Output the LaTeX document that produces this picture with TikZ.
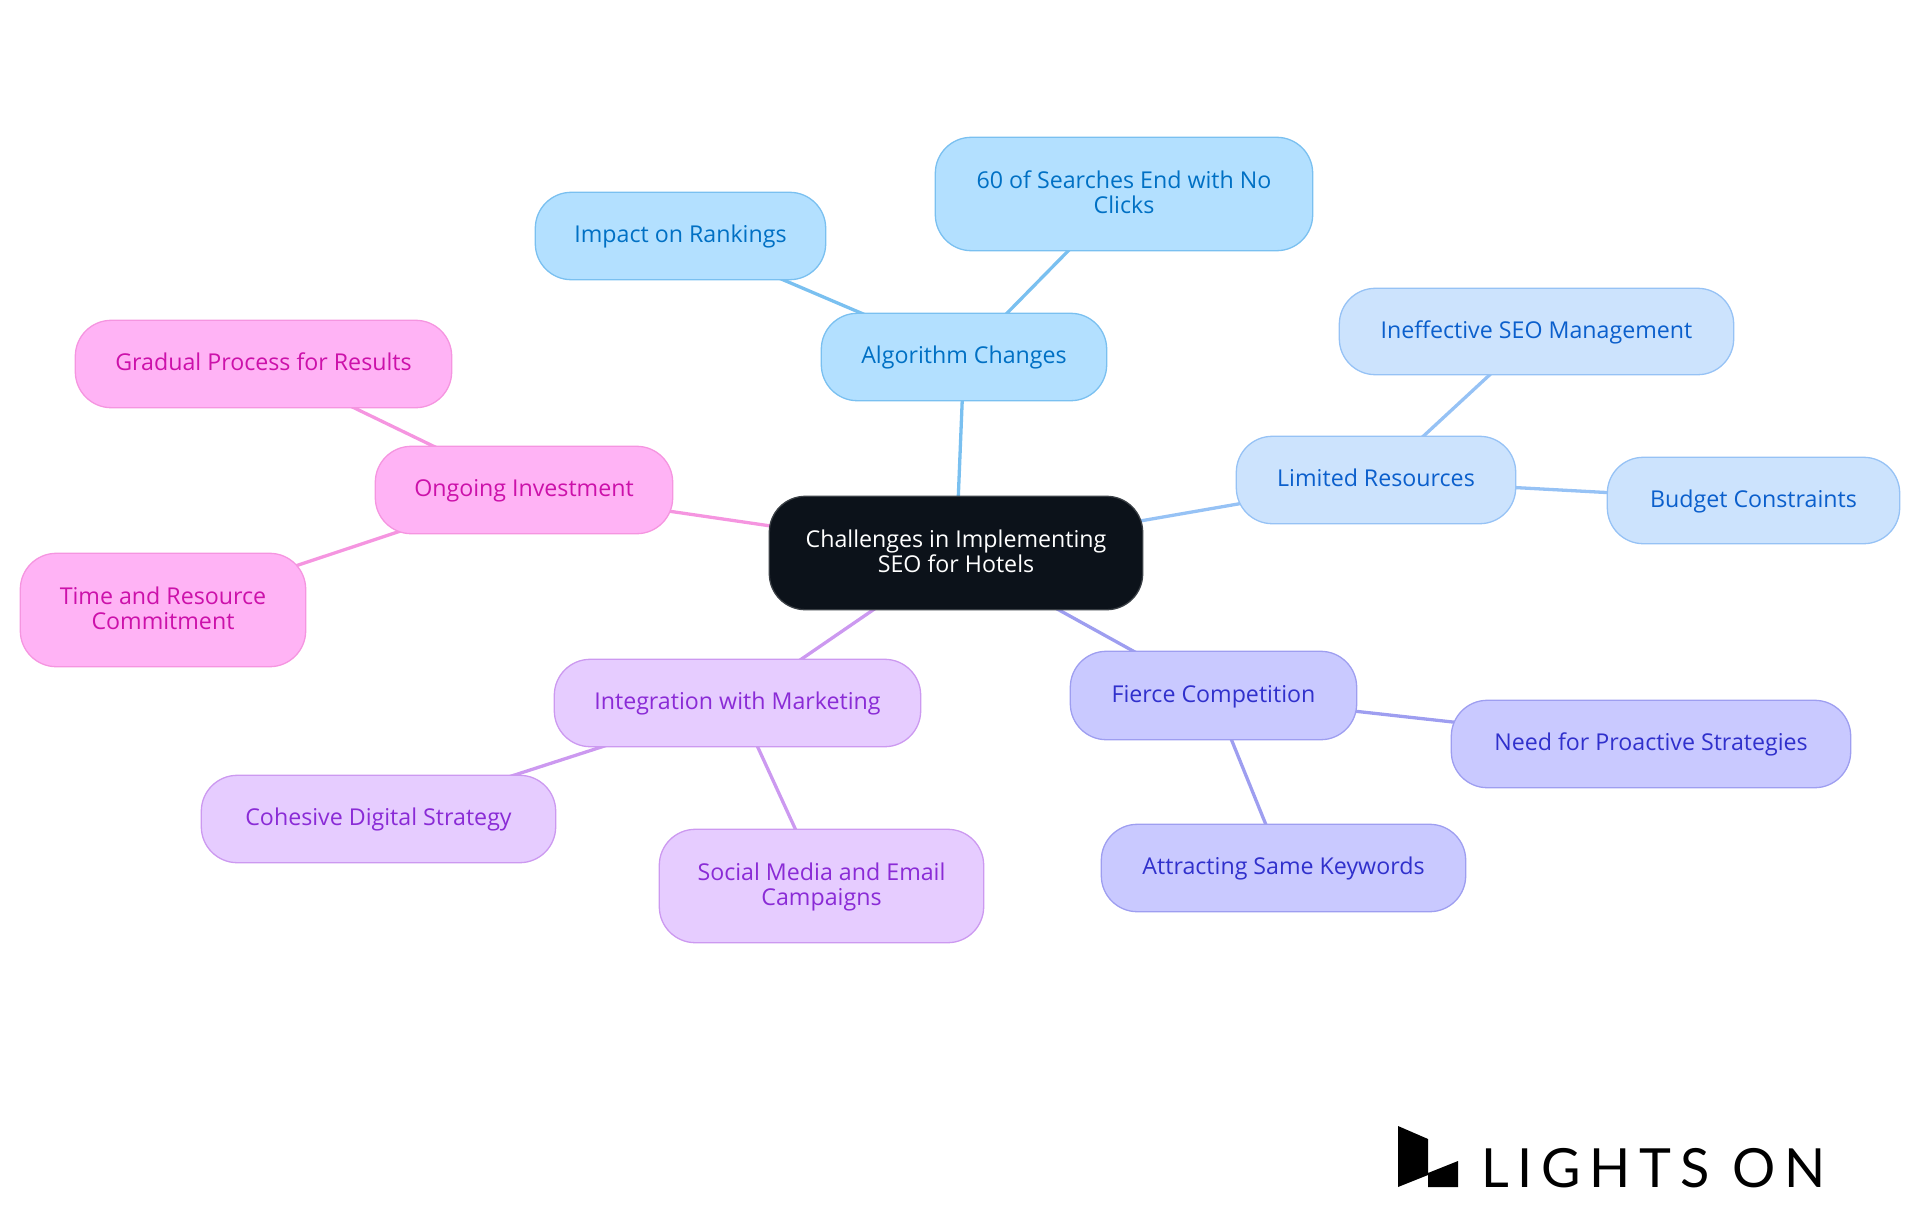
\documentclass[tikz,border=0pt]{standalone}
\usepackage{fontspec}
\setmainfont{Open Sans}
\newfontfamily\logofont[LetterSpace=16.2]{Lato}
\usetikzlibrary{backgrounds}
\definecolor{cA}{HTML}{B3E0FF}\definecolor{sA}{HTML}{7AC0F0}\definecolor{tA}{HTML}{0070C4}
\definecolor{cB}{HTML}{CCE3FD}\definecolor{sB}{HTML}{96C2F5}\definecolor{tB}{HTML}{0B5FCC}
\definecolor{cC}{HTML}{C9C9FF}\definecolor{sC}{HTML}{9E9EF0}\definecolor{tC}{HTML}{3030CC}
\definecolor{cD}{HTML}{E6CCFF}\definecolor{sD}{HTML}{CC99F0}\definecolor{tD}{HTML}{8A2BD6}
\definecolor{cE}{HTML}{FFB3F5}\definecolor{sE}{HTML}{F595E0}\definecolor{tE}{HTML}{CC11AA}
\definecolor{cR}{HTML}{0C121A}\definecolor{sR}{HTML}{3A3F45}
\newcommand{\topstrut}{\rule{0pt}{20.8pt}}
\newcommand{\botstrut}{\rule[-7pt]{0pt}{7pt}}
\tikzset{
 x=1pt,y=-1pt,
 box/.style={rounded corners=36pt,line width=1.3pt,align=center,inner sep=0pt,
   font=\fontsize{23.2}{25}\selectfont},
 famA/.style={box,fill=cA,draw=sA,text=tA},
 famB/.style={box,fill=cB,draw=sB,text=tB},
 famC/.style={box,fill=cC,draw=sC,text=tC},
 famD/.style={box,fill=cD,draw=sD,text=tD},
 famE/.style={box,fill=cE,draw=sE,text=tE},
 famR/.style={box,fill=cR,draw=sR,text=white},
 link/.style={line width=3.3pt},
}
\newcommand{\bx}[7]{\node[#2,minimum width=#5pt-#3pt-0.6pt,minimum height=#6pt-#4pt-0.6pt] (#1) at ({(#3+#5)/2},{(#4+#6)/2}) {\topstrut #7\botstrut};}
\begin{document}
\begin{tikzpicture}
\useasboundingbox (0,0) rectangle (1920,1215);
\bx{root}{famR}{769}{496}{1143}{610}{Challenges in Implementing\\SEO for Hotels}
\bx{alg}{famA}{821}{313}{1107}{401}{Algorithm Changes}
\bx{imp}{famA}{535}{192}{826}{280}{Impact on Rankings}
\bx{sixty}{famA}{935}{137}{1313}{251}{60 of Searches End with No\\Clicks}
\bx{lim}{famB}{1236}{436}{1516}{524}{Limited Resources}
\bx{ineff}{famB}{1339}{288}{1734}{375}{Ineffective SEO Management}
\bx{bud}{famB}{1607}{457}{1900}{544}{Budget Constraints}
\bx{fie}{famC}{1070}{651}{1357}{740}{Fierce Competition}
\bx{need}{famC}{1451}{700}{1851}{788}{Need for Proactive Strategies}
\bx{att}{famC}{1101}{824}{1466}{912}{Attracting Same Keywords}
\bx{integ}{famD}{554}{659}{921}{747}{Integration with Marketing}
\bx{coh}{famD}{201}{775}{556}{863}{Cohesive Digital Strategy}
\bx{soc}{famD}{659}{829}{984}{943}{Social Media and Email\\Campaigns}
\bx{ong}{famE}{375}{446}{673}{534}{Ongoing Investment}
\bx{grad}{famE}{75}{320}{452}{408}{Gradual Process for Results}
\bx{timer}{famE}{20}{553}{306}{667}{Time and Resource\\Commitment}
\begin{scope}[on background layer]
\draw[link,sA] (root.center)--(alg.center);
\draw[link,sA] (alg.center)--(imp.center);
\draw[link,sA] (alg.center)--(sixty.center);
\draw[link,sB] (root.center)--(lim.center);
\draw[link,sB] (lim.center)--(ineff.center);
\draw[link,sB] (lim.center)--(bud.center);
\draw[link,sC] (root.center)--(fie.center);
\draw[link,sC] (fie.center)--(need.center);
\draw[link,sC] (fie.center)--(att.center);
\draw[link,sD] (root.center)--(integ.center);
\draw[link,sD] (integ.center)--(coh.center);
\draw[link,sD] (integ.center)--(soc.center);
\draw[link,sE] (root.center)--(ong.center);
\draw[link,sE] (ong.center)--(grad.center);
\draw[link,sE] (ong.center)--(timer.center);
\end{scope}
\fill[black] (1398,1126)--(1428,1139)--(1428,1173)--(1458,1161)--(1458,1187)--(1428,1187)--(1428,1175)--(1398,1187)--cycle;
\node[anchor=base west,inner sep=0pt,font=\logofont\fontsize{54}{54}\selectfont] (logo) at (1481,1187) {LIGHTS ON};
\end{tikzpicture}
\end{document}
